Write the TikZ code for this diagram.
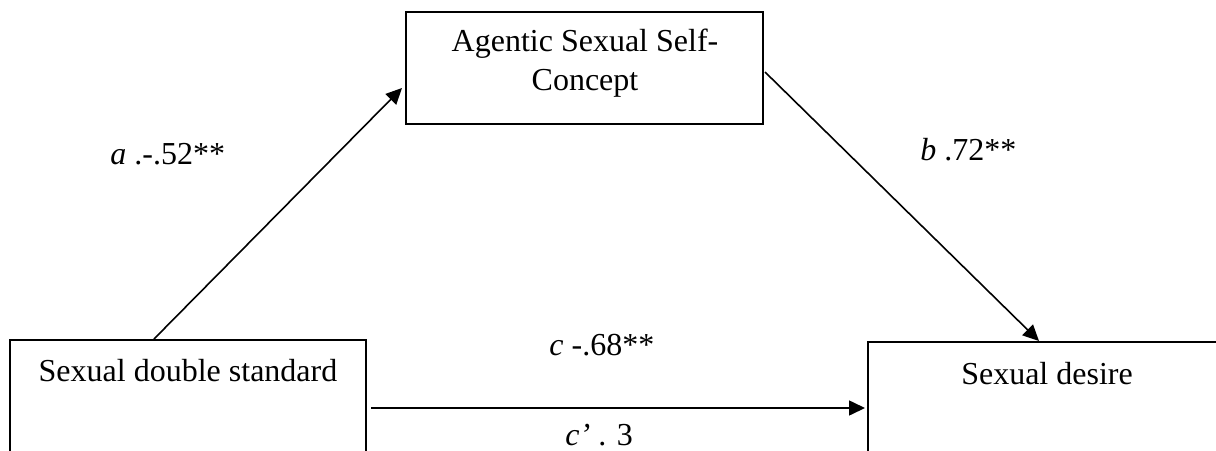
\documentclass[tikz,border=0pt]{standalone}
\usepackage{fontspec}
\setmainfont{Liberation Serif}
\usetikzlibrary{arrows.meta}
\begin{document}
\begin{tikzpicture}[x=0.5pt,y=-0.5pt,
  every node/.style={font=\fontsize{16}{19.5}\selectfont},
  varbox/.style={draw, line width=1pt, rectangle, inner sep=0pt},
  boxtext/.style={inner sep=0pt, align=center},
  coef/.style={inner sep=0pt, anchor=base west},
  path/.style={line width=0.8pt, -{Triangle[length=8pt,width=7.5pt]}}]
\useasboundingbox (0,0) rectangle (1216,450);
\clip (0,0) rectangle (1216,450);

% variable boxes
\node[varbox, minimum width=178.5pt, minimum height=56pt] (ascc) at (584.5,68) {};
\node[varbox, minimum width=178pt, minimum height=80pt] (sds) at (188,420) {};
\node[varbox, minimum width=186pt, minimum height=79pt] (sd) at (1054,421) {};

% box captions
\node[boxtext] (asccText) at (585,63) {Agentic Sexual Self-\\Concept};
\node[boxtext] (sdsText) at (188,371) {Sexual double standard};
\node[boxtext] (sdText) at (1047,374) {Sexual desire};

% paths
\coordinate (cy) at (0,408);
\draw[path] ([xshift=72.5pt]sds.north west) -- ([xshift=-1.5pt,yshift=-10pt]ascc.west);
\draw[path] ([xshift=0.5pt,yshift=-2pt]ascc.east) -- ([xshift=86pt]sd.north west);
\draw[path] ([xshift=2pt]sds.east |- cy) -- ([xshift=-1pt]sd.west |- cy);

% coefficients
\node[coef] (aLab) at (110,164) {\textit{a} .-.52**};
\node[coef] (bLab) at (920,160) {\textit{b} .72**};
\node[coef] (cLab) at (549,355) {\textit{c} -.68**};
\node[coef] (cpLab) at (565,445) {\textit{c’} . 3};
\end{tikzpicture}
\end{document}
